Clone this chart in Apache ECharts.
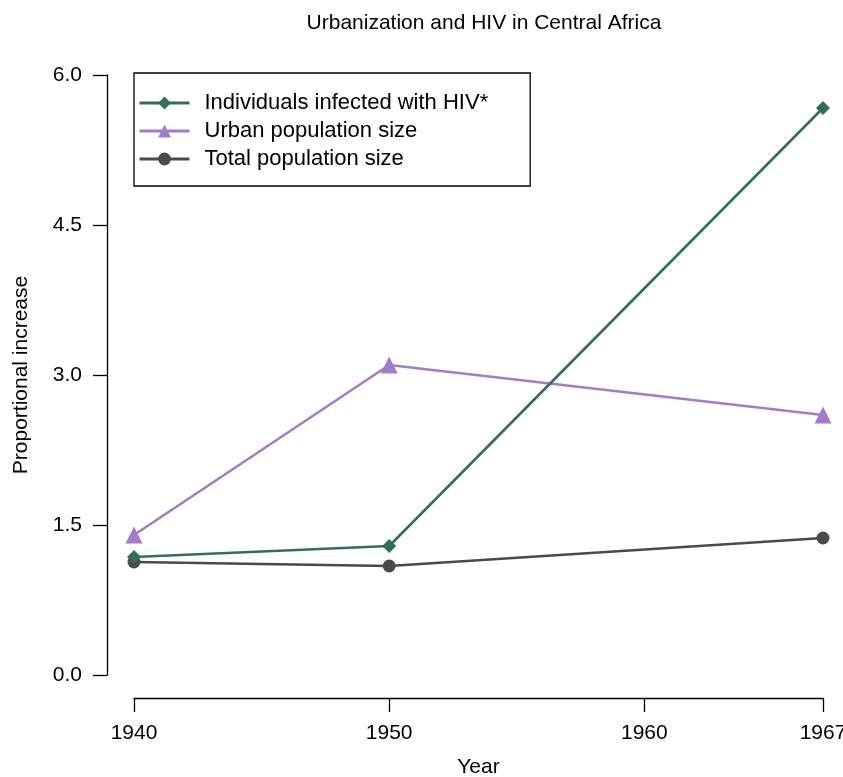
<!DOCTYPE html>
<html lang="en">
<head>
	<meta charset="UTF-8">
	<title>Urbanization and HIV</title>
	<script src="https://cdn.jsdelivr.net/npm/echarts@6/dist/echarts.min.js"></script>
	<style>
		body { margin: 0; background: #fff; }
		#container { width: 843px; height: 777px; }
	</style>
</head>
<body>
	<div id="container"></div>
	<script>
		var years = [1940, 1950, 1967];
		var xTicks = [1940, 1950, 1960, 1967];
		var hivInfected = [1.18, 1.29, 5.67];
		var urbanPop = [1.40, 3.10, 2.60];
		var totalPop = [1.13, 1.09, 1.37];

		function pairs(vals) {
			return years.map(function (y, i) { return [y, vals[i]]; });
		}

		var font = 'Liberation Sans, Arial, sans-serif';
		var myChart = echarts.init(document.getElementById('container'));

		var option = {
			animation: false,
			textStyle: { fontFamily: font, color: '#000' },
			title: {
				text: 'Urbanization and HIV in Central Africa',
				left: 479,
				top: 8,
				textAlign: 'center',
				textStyle: { fontSize: 21, fontWeight: 'normal', color: '#000', fontFamily: font }
			},
			grid: { left: 134, right: 20, top: 75, bottom: 102, outerBoundsMode: 'none' },
			legend: {
				orient: 'vertical',
				left: 134,
				top: 73,
				itemWidth: 50,
				itemHeight: 16,
				itemGap: 4,
				padding: [18, 42, 15, 4],
				borderColor: '#000',
				borderWidth: 1.3,
				borderRadius: 0,
				lineStyle: { width: 3 },
				textStyle: { fontSize: 22, color: '#000', lineHeight: 24, fontFamily: font, padding: [0, 0, 0, 10] }
			},
			xAxis: {
				type: 'value',
				min: 1940,
				max: 1967,
				offset: 23,
				name: 'Year',
				nameLocation: 'middle',
				nameGap: 59,
				nameTextStyle: { fontSize: 21, color: '#000' },
				splitLine: { show: false },
				axisLine: { show: true, onZero: false, lineStyle: { color: '#000', width: 1.3 } },
				axisTick: { show: true, length: 14, customValues: xTicks, lineStyle: { color: '#000', width: 1.3 } },
				axisLabel: {
					customValues: xTicks, margin: 25, fontSize: 21, color: '#000',
					formatter: function (v) { return String(v); }
				}
			},
			yAxis: {
				type: 'value',
				min: 0,
				max: 6,
				interval: 1.5,
				offset: 27,
				name: 'Proportional increase',
				nameLocation: 'middle',
				nameRotate: 90,
				nameGap: 75,
				nameTextStyle: { fontSize: 21, color: '#000' },
				splitLine: { show: false },
				axisLine: { show: true, onZero: false, lineStyle: { color: '#000', width: 1.3 } },
				axisTick: { show: true, length: 14, lineStyle: { color: '#000', width: 1.3 } },
				axisLabel: {
					margin: 25, fontSize: 21, color: '#000',
					formatter: function (v) { return v.toFixed(1); }
				}
			},
			series: [
				{
					name: 'Individuals infected with HIV*',
					type: 'line',
					data: pairs(hivInfected),
					symbol: 'diamond',
					symbolSize: 14,
					z: 4,
					lineStyle: { color: '#336e5b', width: 2.6 },
					itemStyle: { color: '#336e5b' }
				},
				{
					name: 'Urban population size',
					type: 'line',
					data: pairs(urbanPop),
					symbol: 'triangle',
					symbolSize: 17,
					z: 3,
					lineStyle: { color: '#a47bc8', width: 2.6 },
					itemStyle: { color: '#a47bc8' }
				},
				{
					name: 'Total population size',
					type: 'line',
					data: pairs(totalPop),
					symbol: 'circle',
					symbolSize: 13,
					z: 2,
					lineStyle: { color: '#4a4a4a', width: 2.6 },
					itemStyle: { color: '#4a4a4a' }
				}
			]
		};

		myChart.setOption(option);
	</script>
</body>
</html>
